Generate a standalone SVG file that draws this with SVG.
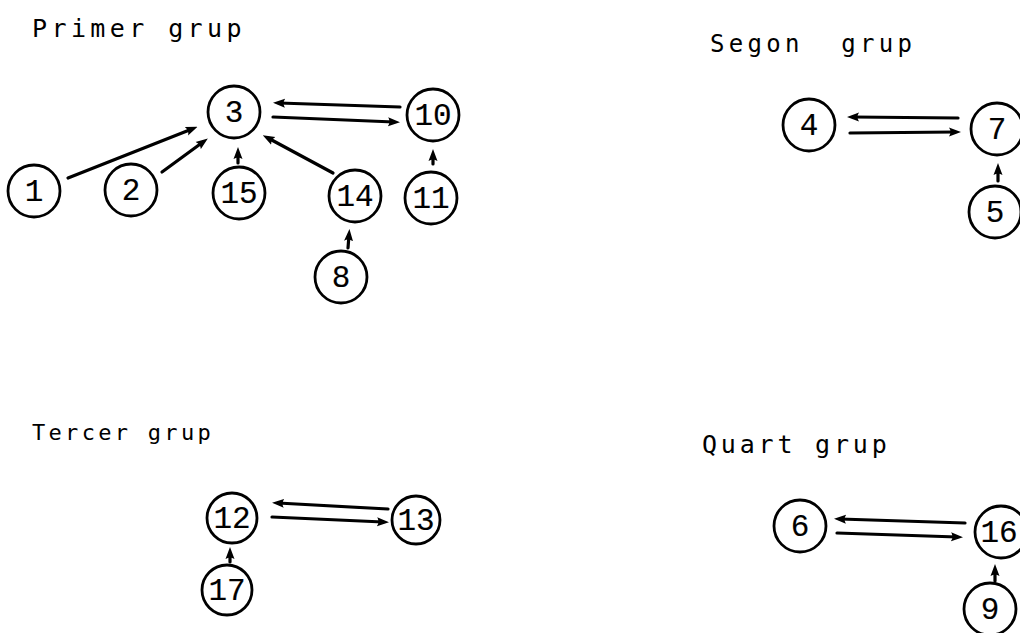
<svg xmlns="http://www.w3.org/2000/svg" width="1020" height="633" viewBox="0 0 1020 633">
  <style>
    .node circle { fill: #fff; stroke: #000; stroke-width: 2.8; }
    .node text { font-family: "Liberation Mono", "Courier New", monospace; font-size: 31px; fill: #000; stroke: #000; stroke-width: 0.15; text-anchor: middle; }
    .title { font-family: "DejaVu Sans Mono", "Liberation Mono", monospace; fill: #000; }
    .edges line { stroke: #000; stroke-width: 3.2; stroke-linecap: round; marker-end: url(#head); }
  </style>
  <defs>
    <marker id="head" viewBox="0 0 12 10" markerWidth="12" markerHeight="10" refX="6" refY="5" orient="auto" markerUnits="userSpaceOnUse">
      <path d="M0,0.5 Q3,5 0,9.5 L12,5 Z" fill="#000"/>
    </marker>
  </defs>
  <rect width="1020" height="633" fill="#fff"/>

  <!-- group titles -->
  <text class="title" x="32" y="37" font-size="25" letter-spacing="4.4">Primer grup</text>
  <text class="title" x="710" y="52" font-size="24" letter-spacing="4.3" xml:space="preserve">Segon  grup</text>
  <text class="title" x="32" y="440" font-size="22" letter-spacing="3.3">Tercer grup</text>
  <text class="title" x="702" y="453" font-size="25" letter-spacing="3.8">Quart grup</text>

  <!-- connectors -->
  <g class="edges">
    <!-- first group -->
    <line x1="68" y1="178" x2="192" y2="129"/>
    <line x1="162" y1="172" x2="203" y2="142"/>
    <line x1="238" y1="163" x2="238" y2="153"/>
    <line x1="333" y1="173" x2="268" y2="138"/>
    <line x1="400" y1="107" x2="279" y2="103"/>
    <line x1="273" y1="117" x2="394" y2="122"/>
    <line x1="433" y1="164" x2="433" y2="155"/>
    <line x1="348" y1="248" x2="349" y2="235"/>
    <!-- second group -->
    <line x1="958" y1="118" x2="853" y2="117"/>
    <line x1="850" y1="133" x2="955" y2="132"/>
    <line x1="998" y1="181" x2="998" y2="169"/>
    <!-- third group -->
    <line x1="388" y1="509" x2="278" y2="503"/>
    <line x1="272" y1="517" x2="383" y2="522"/>
    <line x1="230" y1="562" x2="230" y2="553"/>
    <!-- fourth group -->
    <line x1="965" y1="523" x2="840" y2="519"/>
    <line x1="837" y1="533" x2="957" y2="537"/>
    <line x1="995" y1="581" x2="995" y2="570"/>
  </g>

  <!-- nodes -->
  <g id="n1" class="node"><circle cx="34" cy="191" r="26"/><text x="34" y="201">1</text></g>
  <g id="n2" class="node"><circle cx="131" cy="190" r="26"/><text x="131" y="200">2</text></g>
  <g id="n3" class="node"><circle cx="234" cy="112" r="26"/><text x="234" y="122">3</text></g>
  <g id="n10" class="node"><circle cx="433" cy="115" r="26"/><text x="433" y="125">10</text></g>
  <g id="n15" class="node"><circle cx="239" cy="193" r="26"/><text x="239" y="203">15</text></g>
  <g id="n14" class="node"><circle cx="355" cy="196" r="26"/><text x="355" y="206">14</text></g>
  <g id="n11" class="node"><circle cx="431" cy="198" r="26"/><text x="431" y="208">11</text></g>
  <g id="n8" class="node"><circle cx="341" cy="277" r="26"/><text x="341" y="287">8</text></g>

  <g id="n4" class="node"><circle cx="809" cy="125" r="26"/><text x="809" y="135">4</text></g>
  <g id="n7" class="node"><circle cx="997" cy="129" r="26"/><text x="997" y="139">7</text></g>
  <g id="n5" class="node"><circle cx="995" cy="212" r="26"/><text x="995" y="222">5</text></g>

  <g id="n12" class="node"><circle cx="232" cy="518" r="25"/><text x="232" y="528">12</text></g>
  <g id="n13" class="node"><circle cx="416" cy="520" r="24"/><text x="416" y="530">13</text></g>
  <g id="n17" class="node"><circle cx="227" cy="590" r="25"/><text x="227" y="600">17</text></g>

  <g id="n6" class="node"><circle cx="800" cy="526" r="26"/><text x="800" y="536">6</text></g>
  <g id="n16" class="node"><circle cx="1001" cy="532" r="26"/><text x="999" y="542">16</text></g>
  <g id="n9" class="node"><circle cx="990" cy="609" r="26"/><text x="990" y="619">9</text></g>
</svg>
